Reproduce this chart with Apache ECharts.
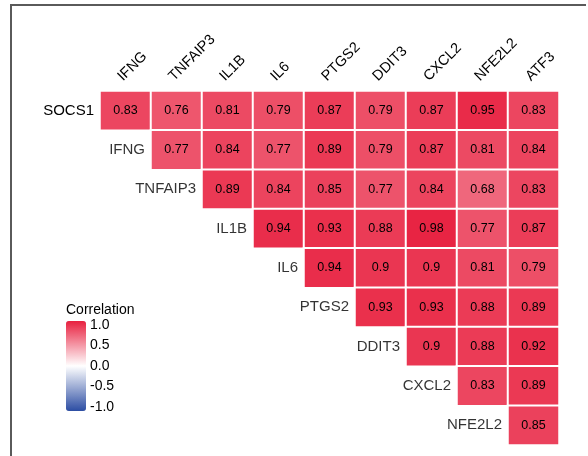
<!DOCTYPE html>
<html>
<head>
<meta charset="utf-8">
<script src="https://cdn.jsdelivr.net/npm/echarts@6/dist/echarts.min.js"></script>
<style>
  html, body { margin: 0; padding: 0; background: #fff; }
  #wrap { position: relative; width: 588px; height: 456px; overflow: hidden; }
  #frame { position: absolute; left: 10px; top: 4px; width: 576px; height: 460px;
           border-top: 2px solid #5a5a5a; border-left: 2px solid #5a5a5a; box-sizing: border-box; }
  #chart { position: absolute; left: 0; top: 0; width: 588px; height: 456px; }
</style>
</head>
<body>
<div id="wrap">
  <div id="frame"></div>
  <div id="chart"></div>
</div>
<script>
// Column (top) labels and row (left) labels
const colNames = ['IFNG', 'TNFAIP3', 'IL1B', 'IL6', 'PTGS2', 'DDIT3', 'CXCL2', 'NFE2L2', 'ATF3'];
const rowNames = ['SOCS1', 'IFNG', 'TNFAIP3', 'IL1B', 'IL6', 'PTGS2', 'DDIT3', 'CXCL2', 'NFE2L2'];

// Correlation values per row (upper triangle, starting at the diagonal column)
const rowSOCS1   = [0.83, 0.76, 0.81, 0.79, 0.87, 0.79, 0.87, 0.95, 0.83];
const rowIFNG    = [0.77, 0.84, 0.77, 0.89, 0.79, 0.87, 0.81, 0.84];
const rowTNFAIP3 = [0.89, 0.84, 0.85, 0.77, 0.84, 0.68, 0.83];
const rowIL1B    = [0.94, 0.93, 0.88, 0.98, 0.77, 0.87];
const rowIL6     = [0.94, 0.9, 0.9, 0.81, 0.79];
const rowPTGS2   = [0.93, 0.93, 0.88, 0.89];
const rowDDIT3   = [0.9, 0.88, 0.92];
const rowCXCL2   = [0.83, 0.89];
const rowNFE2L2  = [0.85];

// Legend ticks
const legendTicks = [-1.0, -0.5, 0.0, 0.5, 1.0];

const rowValues = [rowSOCS1, rowIFNG, rowTNFAIP3, rowIL1B, rowIL6, rowPTGS2, rowDDIT3, rowCXCL2, rowNFE2L2];
const heatData = [];
rowValues.forEach((vals, r) => {
  vals.forEach((v, k) => {
    const c = r + k;
    heatData.push([colNames[c], rowNames[r], v]);
  });
});
const diagLabels = [];
for (let r = 1; r < rowNames.length; r++) {
  diagLabels.push([colNames[r - 1], rowNames[r], rowNames[r]]);
}

const FONT = 'Liberation Sans, Arial, Helvetica, sans-serif';
const TXT = '#000000';

const chart = echarts.init(document.getElementById('chart'), null, { renderer: 'canvas' });
chart.setOption({
  animation: false,
  backgroundColor: 'transparent',
  textStyle: { fontFamily: FONT },
  title: {
    text: 'Correlation', left: 66, top: 303, padding: 0,
    textStyle: { fontSize: 14, fontWeight: 'normal', color: TXT, fontFamily: FONT }
  },
  grid: [
    { left: 100, top: 91, width: 459, height: 354 },
    { left: 66, top: 325, width: 20, height: 82 }
  ],
  xAxis: [
    {
      type: 'category', data: colNames, position: 'top', gridIndex: 0,
      axisLine: { show: false }, axisTick: { show: false }, splitLine: { show: false },
      axisLabel: {
        interval: 0, rotate: -45, fontSize: 14.5, color: TXT, fontFamily: FONT,
        margin: 7, align: 'left', verticalAlign: 'bottom'
      }
    },
    { type: 'value', gridIndex: 1, show: false, min: 0, max: 1 }
  ],
  yAxis: [
    {
      type: 'category', data: rowNames, inverse: true, gridIndex: 0,
      axisLine: { show: false }, axisTick: { show: false }, splitLine: { show: false },
      axisLabel: {
        interval: 0, fontSize: 15, color: TXT, fontFamily: FONT, margin: 6,
        formatter: (v, i) => (i === 0 ? v : '')
      }
    },
    {
      type: 'value', gridIndex: 1, min: -1, max: 1, interval: 0.5, position: 'right',
      axisLine: { show: false }, splitLine: { show: false },
      axisTick: { show: true, inside: true, length: 4, lineStyle: { color: 'rgba(255,255,255,0.85)', width: 1 } },
      axisLabel: { fontSize: 14, color: TXT, fontFamily: FONT, margin: 4, formatter: v => v.toFixed(1) }
    },
    {
      type: 'value', gridIndex: 1, min: -1, max: 1, interval: 0.5, position: 'left',
      axisLine: { show: false }, splitLine: { show: false },
      axisTick: { show: true, inside: true, length: 4, lineStyle: { color: 'rgba(255,255,255,0.85)', width: 1 } },
      axisLabel: { show: false }
    }
  ],
  visualMap: {
    type: 'continuous', min: -1, max: 1, seriesIndex: 0, dimension: 2,
    calculable: false, hoverLink: false, orient: 'vertical',
    left: 66, top: 321, itemWidth: 20, itemHeight: 90, padding: 0,
    inRange: { color: ['#2C4DA3', '#FFFFFF', '#E8203F'] },
    textStyle: { color: TXT }
  },
  series: [
    {
      type: 'heatmap', xAxisIndex: 0, yAxisIndex: 0, data: heatData,
      itemStyle: { borderColor: '#ffffff', borderWidth: 2 },
      label: {
        show: true, fontSize: 12.5, color: TXT, fontFamily: FONT,
        formatter: p => String(p.value[2])
      },
      emphasis: { disabled: true }
    },
    {
      type: 'scatter', xAxisIndex: 0, yAxisIndex: 0, data: diagLabels,
      symbol: 'rect', symbolSize: [49, 37], itemStyle: { color: 'rgba(0,0,0,0)' },
      label: {
        show: true, position: 'insideRight', distance: 5, fontSize: 15, color: TXT, fontFamily: FONT,
        formatter: p => p.value[2]
      },
      emphasis: { disabled: true }, silent: true
    }
  ]
});
</script>
</body>
</html>
